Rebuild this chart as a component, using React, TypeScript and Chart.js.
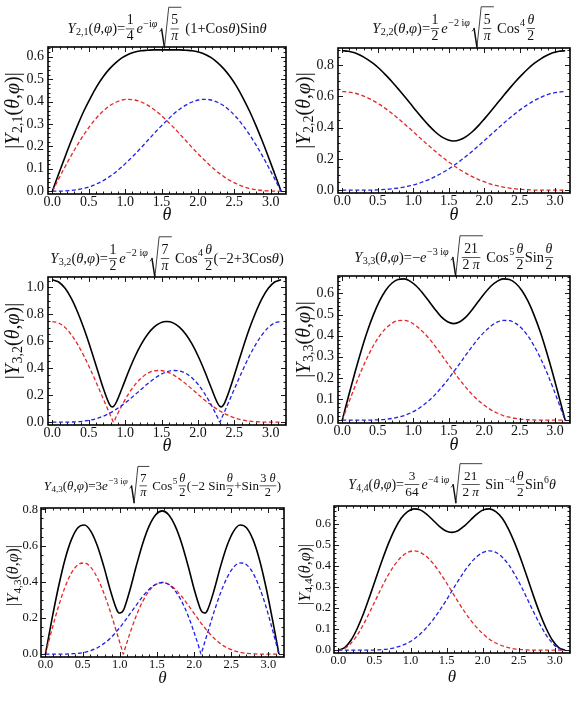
import React, { useEffect, useRef } from 'react';
import { Chart, registerables } from 'chart.js';

Chart.register(...registerables);

// ---------------------------------------------------------------------------
// Sample points in θ (radians), 5° apart
// ---------------------------------------------------------------------------
const THETA = [0, 0.087, 0.175, 0.262, 0.349, 0.436, 0.524, 0.611, 0.698, 0.785, 0.873, 0.960, 1.047, 1.134, 1.222, 1.309, 1.396, 1.484, 1.571, 1.658, 1.745, 1.833, 1.920, 2.007, 2.094, 2.182, 2.269, 2.356, 2.443, 2.531, 2.618, 2.705, 2.793, 2.880, 2.967, 3.054, 3.142];

// same grid, with extra samples around the zeros of Y3,2
const THETA_Y32 = [0, 0.087, 0.175, 0.262, 0.349, 0.436, 0.524, 0.611, 0.698, 0.785, 0.820, 0.841, 0.873, 0.960, 1.047, 1.134, 1.222, 1.309, 1.396, 1.484, 1.571, 1.658, 1.745, 1.833, 1.920, 2.007, 2.094, 2.182, 2.269, 2.301, 2.321, 2.356, 2.443, 2.531, 2.618, 2.705, 2.793, 2.880, 2.967, 3.054, 3.142];

// same grid, with extra samples around the zeros of Y4,3
const THETA_Y43 = [0, 0.087, 0.175, 0.262, 0.349, 0.436, 0.524, 0.611, 0.698, 0.785, 0.873, 0.960, 0.995, 1.030, 1.047, 1.065, 1.134, 1.222, 1.309, 1.396, 1.484, 1.571, 1.658, 1.745, 1.833, 1.920, 2.007, 2.077, 2.094, 2.112, 2.147, 2.182, 2.269, 2.356, 2.443, 2.531, 2.618, 2.705, 2.793, 2.880, 2.967, 3.054, 3.142];

// ---------------------------------------------------------------------------
// Curve values: |Y| (black), first component (red), second component (blue)
// ---------------------------------------------------------------------------
const Y21_ABS = [0, 0.078, 0.154, 0.227, 0.296, 0.360, 0.417, 0.468, 0.511, 0.546, 0.574, 0.596, 0.611, 0.621, 0.627, 0.629, 0.631, 0.631, 0.631, 0.631, 0.631, 0.629, 0.627, 0.621, 0.611, 0.596, 0.574, 0.546, 0.511, 0.468, 0.417, 0.360, 0.296, 0.227, 0.154, 0.078, 0];
const Y21_RED = [0, 0.055, 0.109, 0.161, 0.209, 0.254, 0.294, 0.329, 0.358, 0.381, 0.397, 0.407, 0.410, 0.407, 0.398, 0.384, 0.365, 0.342, 0.315, 0.287, 0.257, 0.226, 0.195, 0.165, 0.137, 0.110, 0.086, 0.065, 0.047, 0.033, 0.021, 0.013, 0.007, 0.003, 0.001, 0, 0];
const Y21_BLUE = [0, 0, 0.001, 0.003, 0.007, 0.013, 0.021, 0.033, 0.047, 0.065, 0.086, 0.110, 0.137, 0.165, 0.195, 0.226, 0.257, 0.287, 0.315, 0.342, 0.365, 0.384, 0.398, 0.407, 0.410, 0.407, 0.397, 0.381, 0.358, 0.329, 0.294, 0.254, 0.209, 0.161, 0.109, 0.055, 0];

const Y22_ABS = [0.892, 0.889, 0.879, 0.862, 0.839, 0.811, 0.777, 0.738, 0.696, 0.650, 0.603, 0.554, 0.505, 0.458, 0.413, 0.374, 0.343, 0.323, 0.315, 0.323, 0.343, 0.374, 0.413, 0.458, 0.505, 0.554, 0.603, 0.650, 0.696, 0.738, 0.777, 0.811, 0.839, 0.862, 0.879, 0.889, 0.892];
const Y22_RED = [0.631, 0.628, 0.621, 0.610, 0.593, 0.573, 0.549, 0.522, 0.492, 0.460, 0.426, 0.391, 0.355, 0.319, 0.284, 0.250, 0.217, 0.186, 0.158, 0.131, 0.108, 0.087, 0.068, 0.053, 0.039, 0.029, 0.020, 0.014, 0.009, 0.005, 0.003, 0.001, 0.001, 0, 0, 0, 0];
const Y22_BLUE = [0, 0, 0, 0, 0.001, 0.001, 0.003, 0.005, 0.009, 0.014, 0.020, 0.029, 0.039, 0.053, 0.068, 0.087, 0.108, 0.131, 0.158, 0.186, 0.217, 0.250, 0.284, 0.319, 0.355, 0.391, 0.426, 0.460, 0.492, 0.522, 0.549, 0.573, 0.593, 0.610, 0.621, 0.628, 0.631];

const Y32_ABS = [1.055, 1.039, 0.992, 0.916, 0.813, 0.690, 0.550, 0.401, 0.253, 0.132, 0.113, 0.117, 0.142, 0.255, 0.376, 0.485, 0.578, 0.651, 0.704, 0.736, 0.746, 0.736, 0.704, 0.651, 0.578, 0.485, 0.376, 0.255, 0.142, 0.117, 0.113, 0.132, 0.253, 0.401, 0.550, 0.690, 0.813, 0.916, 0.992, 1.039, 1.055];
const Y32_RED = [0.746, 0.735, 0.702, 0.647, 0.575, 0.488, 0.389, 0.283, 0.174, 0.066, 0.024, 0, 0.036, 0.129, 0.210, 0.277, 0.327, 0.362, 0.380, 0.383, 0.373, 0.352, 0.321, 0.285, 0.244, 0.203, 0.163, 0.126, 0.094, 0.083, 0.076, 0.066, 0.044, 0.027, 0.015, 0.008, 0.003, 0.001, 0, 0, 0];
const Y32_BLUE = [0, 0, 0, 0.001, 0.003, 0.008, 0.015, 0.027, 0.044, 0.066, 0.076, 0.083, 0.094, 0.126, 0.163, 0.203, 0.244, 0.285, 0.321, 0.352, 0.373, 0.383, 0.380, 0.362, 0.327, 0.277, 0.210, 0.129, 0.036, 0, 0.024, 0.066, 0.174, 0.283, 0.389, 0.488, 0.575, 0.647, 0.702, 0.735, 0.746];

const Y33_ABS = [0, 0.112, 0.221, 0.323, 0.416, 0.496, 0.563, 0.614, 0.648, 0.666, 0.669, 0.657, 0.634, 0.601, 0.563, 0.524, 0.489, 0.466, 0.457, 0.466, 0.489, 0.524, 0.563, 0.601, 0.634, 0.657, 0.669, 0.666, 0.648, 0.614, 0.563, 0.496, 0.416, 0.323, 0.221, 0.112, 0];
const Y33_RED = [0, 0.079, 0.156, 0.229, 0.294, 0.351, 0.398, 0.434, 0.458, 0.471, 0.472, 0.464, 0.445, 0.419, 0.387, 0.350, 0.310, 0.269, 0.229, 0.190, 0.154, 0.121, 0.093, 0.069, 0.049, 0.034, 0.022, 0.014, 0.008, 0.004, 0.002, 0.001, 0, 0, 0, 0, 0];
const Y33_BLUE = [0, 0, 0, 0, 0, 0.001, 0.002, 0.004, 0.008, 0.014, 0.022, 0.034, 0.049, 0.069, 0.093, 0.121, 0.154, 0.190, 0.229, 0.269, 0.310, 0.350, 0.387, 0.419, 0.445, 0.464, 0.472, 0.471, 0.458, 0.434, 0.398, 0.351, 0.294, 0.229, 0.156, 0.079, 0];

const Y43_ABS = [0, 0.193, 0.371, 0.522, 0.633, 0.699, 0.714, 0.679, 0.599, 0.485, 0.353, 0.245, 0.227, 0.232, 0.242, 0.258, 0.350, 0.487, 0.612, 0.709, 0.771, 0.792, 0.771, 0.709, 0.612, 0.487, 0.350, 0.258, 0.242, 0.232, 0.227, 0.245, 0.353, 0.485, 0.599, 0.679, 0.714, 0.699, 0.633, 0.522, 0.371, 0.193, 0];
const Y43_RED = [0, 0.136, 0.263, 0.369, 0.448, 0.494, 0.504, 0.480, 0.422, 0.338, 0.234, 0.118, 0.071, 0.023, 0, 0.023, 0.112, 0.212, 0.292, 0.350, 0.385, 0.396, 0.386, 0.359, 0.319, 0.271, 0.221, 0.181, 0.171, 0.162, 0.144, 0.127, 0.088, 0.058, 0.035, 0.020, 0.010, 0.004, 0.002, 0, 0, 0, 0];
const Y43_BLUE = [0, 0, 0, 0, 0.002, 0.004, 0.010, 0.020, 0.035, 0.058, 0.088, 0.127, 0.144, 0.162, 0.171, 0.181, 0.221, 0.271, 0.319, 0.359, 0.386, 0.396, 0.385, 0.350, 0.292, 0.212, 0.112, 0.023, 0, 0.023, 0.071, 0.118, 0.234, 0.338, 0.422, 0.480, 0.504, 0.494, 0.448, 0.369, 0.263, 0.136, 0];

const Y44_ABS = [0, 0.012, 0.047, 0.103, 0.174, 0.257, 0.345, 0.431, 0.510, 0.577, 0.628, 0.659, 0.672, 0.667, 0.647, 0.619, 0.590, 0.568, 0.560, 0.568, 0.590, 0.619, 0.647, 0.667, 0.672, 0.659, 0.628, 0.577, 0.510, 0.431, 0.345, 0.257, 0.174, 0.103, 0.047, 0.012, 0];
const Y44_RED = [0, 0.008, 0.033, 0.072, 0.123, 0.182, 0.244, 0.305, 0.361, 0.408, 0.443, 0.465, 0.472, 0.465, 0.445, 0.414, 0.374, 0.328, 0.280, 0.231, 0.185, 0.143, 0.107, 0.077, 0.052, 0.034, 0.021, 0.012, 0.006, 0.003, 0.001, 0, 0, 0, 0, 0, 0];
const Y44_BLUE = [0, 0, 0, 0, 0, 0, 0.001, 0.003, 0.006, 0.012, 0.021, 0.034, 0.052, 0.077, 0.107, 0.143, 0.185, 0.231, 0.280, 0.328, 0.374, 0.414, 0.445, 0.465, 0.472, 0.465, 0.443, 0.408, 0.361, 0.305, 0.244, 0.182, 0.123, 0.072, 0.033, 0.008, 0];

// ---------------------------------------------------------------------------
// Tick labels
// ---------------------------------------------------------------------------
const X_TICKS = [0, 0.5, 1, 1.5, 2, 2.5, 3];
const Y_TICKS_06 = [0, 0.1, 0.2, 0.3, 0.4, 0.5, 0.6];
const Y_TICKS_08 = [0, 0.2, 0.4, 0.6, 0.8];
const Y_TICKS_10 = [0, 0.2, 0.4, 0.6, 0.8, 1.0];

const X_MIN = -0.06;
const X_MAX = 3.21;

const FONT = '"Liberation Serif", "Times New Roman", Times, serif';
const RED = 'rgb(228, 38, 38)';
const BLUE = 'rgb(32, 32, 228)';
const INK = '#111';

Chart.defaults.font.family = FONT;

// ---------------------------------------------------------------------------
// Tiny formula typesetter (rows, sub/superscripts, fractions, radicals)
// ---------------------------------------------------------------------------
type M =
  | { k: 't'; s: string; i?: boolean }
  | { k: 'r'; c: M[] }
  | { k: 'sb'; b: M; s: M }
  | { k: 'sp'; b: M; s: M }
  | { k: 'f'; n: M; d: M }
  | { k: 'q'; c: M }
  | { k: 'g'; w: number };

const t = (s: string): M => ({ k: 't', s });
const it = (s: string): M => ({ k: 't', s, i: true });
const row = (...c: M[]): M => ({ k: 'r', c });
const sub = (b: M, s: M): M => ({ k: 'sb', b, s });
const sup = (b: M, s: M): M => ({ k: 'sp', b, s });
const frac = (n: M, d: M): M => ({ k: 'f', n, d });
const sqrt = (c: M): M => ({ k: 'q', c });
const gap = (w: number): M => ({ k: 'g', w });

const SCRIPT = 0.7;
const FRAC = 0.95;
const SUB_DROP = 0.16;
const SUP_RISE = 0.42;

type Box = { w: number; a: number; d: number };
const fontOf = (size: number, italic?: boolean) => `${italic ? 'italic ' : ''}${size}px ${FONT}`;

function measure(ctx: CanvasRenderingContext2D, m: M, size: number): Box {
  switch (m.k) {
    case 't': {
      ctx.font = fontOf(size, m.i);
      return { w: ctx.measureText(m.s).width, a: size * 0.7, d: size * 0.22 };
    }
    case 'g':
      return { w: m.w * size, a: 0, d: 0 };
    case 'r': {
      let w = 0, a = 0, d = 0;
      for (const c of m.c) {
        const b = measure(ctx, c, size);
        w += b.w; a = Math.max(a, b.a); d = Math.max(d, b.d);
      }
      return { w, a, d };
    }
    case 'sb': {
      const b = measure(ctx, m.b, size);
      const s = measure(ctx, m.s, size * SCRIPT);
      const sh = size * SUB_DROP;
      return { w: b.w + s.w + size * 0.03, a: Math.max(b.a, s.a - sh), d: Math.max(b.d, s.d + sh) };
    }
    case 'sp': {
      const b = measure(ctx, m.b, size);
      const s = measure(ctx, m.s, size * SCRIPT);
      const sh = size * SUP_RISE;
      return { w: b.w + s.w + size * 0.03, a: Math.max(b.a, s.a + sh), d: Math.max(b.d, s.d - sh) };
    }
    case 'f': {
      const fs = size * FRAC;
      const n = measure(ctx, m.n, fs);
      const dn = measure(ctx, m.d, fs);
      const ax = size * 0.28, g = size * 0.12;
      return { w: Math.max(n.w, dn.w) + size * 0.2, a: ax + g + n.d + n.a, d: -ax + g + dn.a + dn.d };
    }
    case 'q': {
      const c = measure(ctx, m.c, size);
      return { w: size * 0.7 + c.w + size * 0.1, a: c.a + size * 0.5, d: c.d + size * 0.3 };
    }
  }
}

function draw(ctx: CanvasRenderingContext2D, m: M, x: number, y: number, size: number): number {
  switch (m.k) {
    case 't': {
      ctx.font = fontOf(size, m.i);
      ctx.fillText(m.s, x, y);
      return ctx.measureText(m.s).width;
    }
    case 'g':
      return m.w * size;
    case 'r': {
      let cx = x;
      for (const c of m.c) cx += draw(ctx, c, cx, y, size);
      return cx - x;
    }
    case 'sb': {
      const w = draw(ctx, m.b, x, y, size);
      const w2 = draw(ctx, m.s, x + w + size * 0.03, y + size * SUB_DROP, size * SCRIPT);
      return w + w2 + size * 0.03;
    }
    case 'sp': {
      const w = draw(ctx, m.b, x, y, size);
      const w2 = draw(ctx, m.s, x + w + size * 0.03, y - size * SUP_RISE, size * SCRIPT);
      return w + w2 + size * 0.03;
    }
    case 'f': {
      const fs = size * FRAC;
      const n = measure(ctx, m.n, fs);
      const dn = measure(ctx, m.d, fs);
      const W = Math.max(n.w, dn.w) + size * 0.2;
      const ax = size * 0.28, g = size * 0.12;
      const by = y - ax;
      draw(ctx, m.n, x + (W - n.w) / 2, by - g - n.d, fs);
      draw(ctx, m.d, x + (W - dn.w) / 2, by + g + dn.a, fs);
      ctx.fillRect(x + size * 0.05, by - 0.35, W - size * 0.1, 0.7);
      return W;
    }
    case 'q': {
      const c = measure(ctx, m.c, size);
      const sw = size * 0.7;
      const top = y - c.a - size * 0.5;
      const bot = y + c.d + size * 0.3;
      const h = bot - top;
      const W = sw + c.w + size * 0.1;
      ctx.save();
      ctx.strokeStyle = ctx.fillStyle as string;
      ctx.lineCap = 'round';
      ctx.lineWidth = 0.8;
      ctx.beginPath();
      ctx.moveTo(x + sw * 0.02, bot - 0.4 * h);
      ctx.lineTo(x + sw * 0.2, bot - 0.46 * h);
      ctx.stroke();
      ctx.lineWidth = 1.5;
      ctx.beginPath();
      ctx.moveTo(x + sw * 0.2, bot - 0.46 * h);
      ctx.lineTo(x + sw * 0.48, bot);
      ctx.stroke();
      ctx.lineWidth = 0.8;
      ctx.beginPath();
      ctx.moveTo(x + sw * 0.48, bot);
      ctx.lineTo(x + sw * 0.9, top);
      ctx.lineTo(x + W, top);
      ctx.stroke();
      ctx.restore();
      draw(ctx, m.c, x + sw, y, size);
      return W;
    }
  }
}

// Formula pieces
const lhs = (lm: string) => row(sub(it('Y'), t(lm)), t('('), it('θ'), t(','), it('φ'), t(')=')); 
const ePow = (s: string) => sup(it('e'), row(t(s), it('φ')));
const half = () => frac(it('θ'), t('2'));
const absLabel = (lm: string) => row(t('|'), sub(it('Y'), t(lm)), t('('), it('θ'), t(','), it('φ'), t(')|'));

const TITLE_21 = row(lhs('2,1'), frac(t('1'), t('4')), gap(0.1), ePow('−i'), gap(0.15), sqrt(frac(t('5'), it('π'))), gap(0.3), t('(1+Cos'), it('θ'), t(')Sin'), it('θ'));
const TITLE_22 = row(lhs('2,2'), frac(t('1'), t('2')), gap(0.1), ePow('−2 i'), gap(0.15), sqrt(frac(t('5'), it('π'))), gap(0.25), sup(t('Cos'), t('4')), gap(0.05), half());
const TITLE_32 = row(lhs('3,2'), frac(t('1'), t('2')), gap(0.1), ePow('−2 i'), gap(0.15), sqrt(frac(t('7'), it('π'))), gap(0.25), sup(t('Cos'), t('4')), gap(0.05), half(), t('(−2+3Cos'), it('θ'), t(')'));
const TITLE_33 = row(lhs('3,3'), t('−'), ePow('−3 i'), gap(0.15), sqrt(frac(t('21'), row(t('2 '), it('π')))), gap(0.25), sup(t('Cos'), t('5')), gap(0.05), half(), t('Sin'), half());
const TITLE_43 = row(lhs('4,3'), t('3'), ePow('−3 i'), gap(0.15), sqrt(frac(t('7'), it('π'))), gap(0.25), sup(t('Cos'), t('5')), gap(0.05), half(), t('(−2 Sin'), half(), t('+Sin'), frac(row(t('3 '), it('θ')), t('2')), t(')'));
const TITLE_44 = row(lhs('4,4'), frac(t('3'), t('64')), gap(0.1), ePow('−4 i'), gap(0.15), sqrt(frac(t('21'), row(t('2 '), it('π')))), gap(0.25), sup(t('Sin'), t('−4')), gap(0.05), half(), t('Sin'), sup(t(''), t('6')), it('θ'));

// ---------------------------------------------------------------------------
// Panel layout
// ---------------------------------------------------------------------------
type Panel = {
  ox: number; oy: number; w: number; h: number;
  frame: { l: number; r: number; t: number; b: number };
  x: number[]; abs: number[]; red: number[]; blue: number[];
  yTicks: number[]; yMinor: number;
  title: M; titleSize: number; titleY: number;
  ylabel: M; ylabelSize: number; ylabelX: number; ylabelDy: number;
  tickSize: number; tickPad: number; thetaSize: number; thetaDy: number;
};

const PANELS: Panel[] = [
  {
    ox: 0, oy: 0, w: 291, h: 230, frame: { l: 48, r: 286, t: 47, b: 194 },
    x: THETA, abs: Y21_ABS, red: Y21_RED, blue: Y21_BLUE, yTicks: Y_TICKS_06, yMinor: 0.02,
    title: TITLE_21, titleSize: 14.5, titleY: 33,
    ylabel: absLabel('2,1'), ylabelSize: 20, ylabelX: 12.5, ylabelDy: -10,
    tickSize: 14, tickPad: 4, thetaSize: 18, thetaDy: 21,
  },
  {
    ox: 291, oy: 0, w: 291, h: 230, frame: { l: 47, r: 279, t: 48, b: 193 },
    x: THETA, abs: Y22_ABS, red: Y22_RED, blue: Y22_BLUE, yTicks: Y_TICKS_08, yMinor: 0.05,
    title: TITLE_22, titleSize: 14.5, titleY: 32.5,
    ylabel: absLabel('2,2'), ylabelSize: 20, ylabelX: 12.5, ylabelDy: -10,
    tickSize: 14, tickPad: 4, thetaSize: 18, thetaDy: 22,
  },
  {
    ox: 0, oy: 230, w: 291, h: 230, frame: { l: 48, r: 286, t: 47, b: 195 },
    x: THETA_Y32, abs: Y32_ABS, red: Y32_RED, blue: Y32_BLUE, yTicks: Y_TICKS_10, yMinor: 0.05,
    title: TITLE_32, titleSize: 14.5, titleY: 32.5,
    ylabel: absLabel('3,2'), ylabelSize: 20, ylabelX: 12.5, ylabelDy: -10,
    tickSize: 14, tickPad: 4, thetaSize: 18, thetaDy: 21,
  },
  {
    ox: 291, oy: 230, w: 291, h: 230, frame: { l: 47, r: 279, t: 46, b: 193 },
    x: THETA, abs: Y33_ABS, red: Y33_RED, blue: Y33_BLUE, yTicks: Y_TICKS_06, yMinor: 0.02,
    title: TITLE_33, titleSize: 14.5, titleY: 31.5,
    ylabel: absLabel('3,3'), ylabelSize: 20, ylabelX: 12.5, ylabelDy: -10,
    tickSize: 14, tickPad: 4, thetaSize: 18, thetaDy: 22,
  },
  {
    ox: 0, oy: 460, w: 291, h: 246, frame: { l: 41, r: 284, t: 48, b: 197 },
    x: THETA_Y43, abs: Y43_ABS, red: Y43_RED, blue: Y43_BLUE, yTicks: Y_TICKS_08, yMinor: 0.05,
    title: TITLE_43, titleSize: 13, titleY: 29.5,
    ylabel: absLabel('4,3'), ylabelSize: 16, ylabelX: 13.5, ylabelDy: -7,
    tickSize: 12.5, tickPad: 3, thetaSize: 17, thetaDy: 22,
  },
  {
    ox: 291, oy: 460, w: 291, h: 246, frame: { l: 43, r: 279, t: 46, b: 193 },
    x: THETA, abs: Y44_ABS, red: Y44_RED, blue: Y44_BLUE, yTicks: Y_TICKS_06, yMinor: 0.02,
    title: TITLE_44, titleSize: 14, titleY: 28.5,
    ylabel: absLabel('4,4'), ylabelSize: 16, ylabelX: 14, ylabelDy: -5,
    tickSize: 12.5, tickPad: 3, thetaSize: 17, thetaDy: 25,
  },
];

const points = (xs: number[], ys: number[]) => xs.map((x, i) => ({ x, y: ys[i] }));

// frame, inward ticks, title and axis labels
function decorPlugin(p: Panel) {
  return {
    id: 'decor',
    afterDatasetsDraw(chart: any) {
      const { ctx, chartArea: a, scales } = chart;
      const xs = scales.x, ys = scales.y;
      ctx.save();
      ctx.strokeStyle = '#000';
      ctx.lineWidth = 0.9;
      ctx.beginPath();
      for (let i = 0; i <= 32; i++) {
        const v = i / 10;
        if (v > X_MAX) break;
        const px = Math.round(xs.getPixelForValue(v)) + 0.5;
        const len = i % 5 === 0 ? 5 : 2.5;
        ctx.moveTo(px, a.bottom); ctx.lineTo(px, a.bottom - len);
        ctx.moveTo(px, a.top); ctx.lineTo(px, a.top + len);
      }
      const major = p.yTicks[1] - p.yTicks[0];
      const nMinor = Math.round(major / p.yMinor);
      for (let j = 0; ; j++) {
        const v = j * p.yMinor;
        if (v > ys.max) break;
        const py = Math.round(ys.getPixelForValue(v)) + 0.5;
        const len = j % nMinor === 0 ? 5 : 2.5;
        ctx.moveTo(a.left, py); ctx.lineTo(a.left + len, py);
        ctx.moveTo(a.right, py); ctx.lineTo(a.right - len, py);
      }
      ctx.stroke();
      ctx.lineWidth = 1.6;
      ctx.strokeRect(a.left, a.top, a.right - a.left, a.bottom - a.top);
      ctx.restore();
    },
    afterDraw(chart: any) {
      const { ctx, chartArea: a } = chart;
      ctx.save();
      ctx.fillStyle = INK;
      ctx.textBaseline = 'alphabetic';
      ctx.textAlign = 'left';
      // title formula
      const tb = measure(ctx, p.title, p.titleSize);
      draw(ctx, p.title, (a.left + a.right) / 2 - tb.w / 2, p.titleY, p.titleSize);
      // rotated y label
      const lb = measure(ctx, p.ylabel, p.ylabelSize);
      ctx.save();
      ctx.translate(p.ylabelX, (a.top + a.bottom) / 2 + p.ylabelDy);
      ctx.rotate(-Math.PI / 2);
      draw(ctx, p.ylabel, -lb.w / 2, p.ylabelSize * 0.3, p.ylabelSize);
      ctx.restore();
      // θ label
      ctx.font = fontOf(p.thetaSize, true);
      ctx.textAlign = 'center';
      ctx.textBaseline = 'middle';
      ctx.fillText('θ', (a.left + a.right) / 2, a.bottom + p.thetaDy);
      ctx.restore();
    },
  };
}

function SpherePanel({ p }: { p: Panel }) {
  const ref = useRef<HTMLCanvasElement>(null);
  useEffect(() => {
    const canvas = ref.current;
    if (!canvas) return;
    const peak = Math.max(...p.abs);
    const tickFont = { family: FONT, size: p.tickSize };
    const chart = new Chart(canvas, {
      type: 'line',
      data: {
        datasets: [
          { data: points(p.x, p.blue), borderColor: BLUE, borderWidth: 1.3, borderDash: [4, 2.5] },
          { data: points(p.x, p.red), borderColor: RED, borderWidth: 1.3, borderDash: [4, 2.5] },
          { data: points(p.x, p.abs), borderColor: '#000', borderWidth: 1.6 },
        ],
      },
      options: {
        responsive: false,
        animation: false,
        events: [],
        layout: {
          autoPadding: false,
          padding: { left: 0, top: p.frame.t, right: p.w - p.frame.r, bottom: 0 },
        },
        elements: {
          point: { radius: 0 },
          line: { cubicInterpolationMode: 'monotone', fill: false },
        },
        plugins: { legend: { display: false }, tooltip: { enabled: false }, title: { display: false } },
        scales: {
          x: {
            type: 'linear',
            min: X_MIN,
            max: X_MAX,
            grid: { display: false, drawTicks: false },
            border: { display: false },
            ticks: {
              font: tickFont, color: INK, padding: 0, autoSkip: false, maxRotation: 0,
              callback: (v: any) => Number(v).toFixed(1),
            },
            afterBuildTicks: (s: any) => { s.ticks = X_TICKS.map((value) => ({ value })); },
            afterFit: (s: any) => { s.height = p.h - p.frame.b; },
          },
          y: {
            type: 'linear',
            min: -0.02 * peak,
            max: 1.02 * peak,
            grid: { display: false, drawTicks: false },
            border: { display: false },
            ticks: {
              font: tickFont, color: INK, padding: p.tickPad, autoSkip: false,
              callback: (v: any) => Number(v).toFixed(1),
            },
            afterBuildTicks: (s: any) => { s.ticks = p.yTicks.map((value) => ({ value })); },
            afterFit: (s: any) => { s.width = p.frame.l; },
          },
        },
      } as any,
      plugins: [decorPlugin(p)],
    });
    return () => chart.destroy();
  }, [p]);
  return (
    <canvas
      ref={ref}
      width={p.w}
      height={p.h}
      style={{ position: 'absolute', left: p.ox, top: p.oy, width: p.w, height: p.h }}
    />
  );
}

export default function App() {
  return (
    <div style={{ position: 'absolute', left: 0, top: 0, width: 582, height: 706, background: '#fff', overflow: 'hidden' }}>
      {PANELS.map((p, i) => (
        <SpherePanel key={i} p={p} />
      ))}
    </div>
  );
}
